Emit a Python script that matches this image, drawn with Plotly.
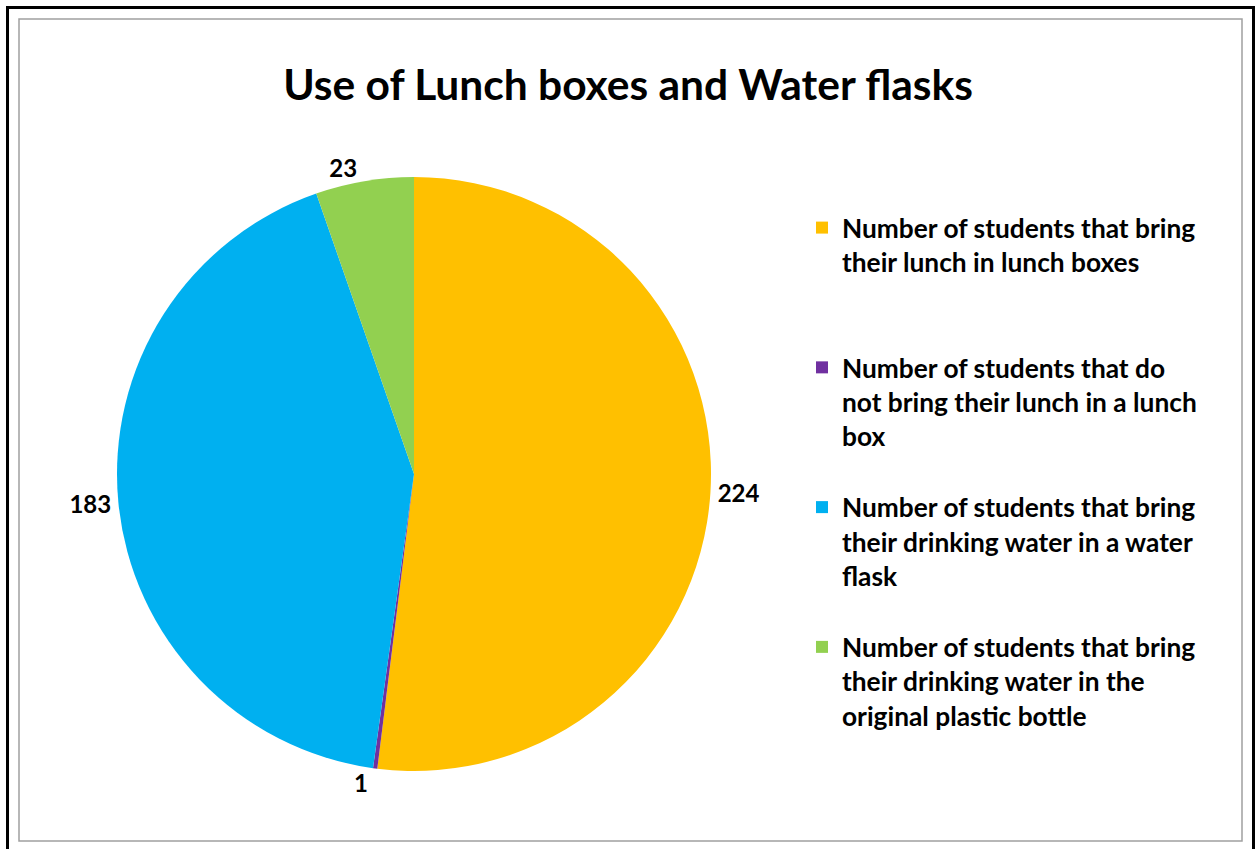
import plotly.graph_objects as go

W, H = 1256, 849

labels = [
    "Number of students that bring<br>their lunch in lunch boxes<br> <br> ",
    "Number of students that do<br>not bring their lunch in a lunch<br>box<br> ",
    "Number of students that bring<br>their drinking water in a water<br>flask<br> ",
    "Number of students that bring<br>their drinking water in the<br>original plastic bottle",
]
values = [224, 1, 183, 23]
colors = ["#FFC000", "#7030A0", "#00B0F0", "#92D050"]
title_text = "Use of Lunch boxes and Water flasks"

FONT = "Lato"

def px(x):
    return x / W

def py(y):
    return 1 - y / H

cx, cy, half = 414, 474, 297

fig = go.Figure(
    go.Pie(
        labels=labels,
        values=values,
        sort=False,
        direction="clockwise",
        rotation=0,
        marker=dict(colors=colors, line=dict(width=0)),
        texttemplate="%{value}",
        textposition="outside",
        outsidetextfont=dict(family=FONT, size=24, color="black", weight="bold"),
        hoverinfo="value+percent",
        domain=dict(x=[px(cx - half), px(cx + half)], y=[py(cy + half), py(cy - half)]),
    )
)

fig.update_layout(
    width=W,
    height=H,
    margin=dict(l=0, r=0, t=0, b=0),
    paper_bgcolor="white",
    plot_bgcolor="white",
    title=dict(
        text=title_text,
        x=0.5,
        xanchor="center",
        y=py(85),
        yanchor="middle",
        font=dict(family=FONT, size=42.5, color="black", weight="bold"),
    ),
    legend=dict(
        x=px(802),
        xanchor="left",
        y=py(204),
        yanchor="top",
        valign="top",
        font=dict(family=FONT, size=26.3, color="black", weight="bold"),
        bgcolor="rgba(0,0,0,0)",
    ),
    showlegend=True,
    shapes=[
        dict(type="rect", xref="paper", yref="paper",
             x0=px(7.5), x1=px(1253.5), y0=py(851), y1=py(7.5),
             line=dict(color="black", width=3)),
        dict(type="rect", xref="paper", yref="paper",
             x0=px(19), x1=px(1242), y0=py(841), y1=py(19),
             line=dict(color="#A0A0A0", width=1.5)),
    ],
)

fig.write_html(
    "out.html",
    config={"displayModeBar": False},
    post_script="document.body.style.margin='0';document.body.style.overflow='hidden';",
)
